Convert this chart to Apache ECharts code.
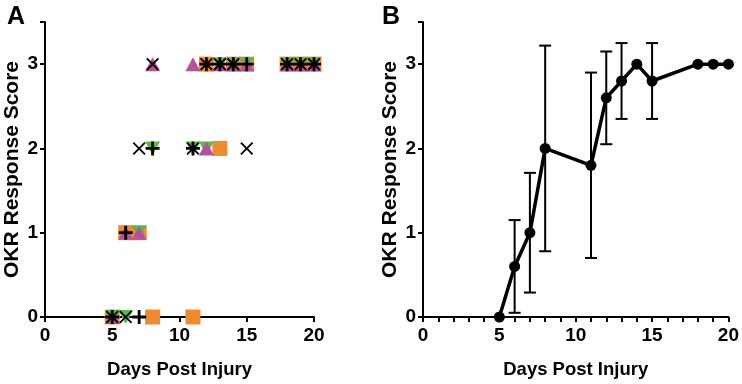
<!DOCTYPE html>
<html><head><meta charset="utf-8">
<script src="https://cdn.jsdelivr.net/npm/echarts@6/dist/echarts.min.js"></script>
<style>html,body{margin:0;padding:0;background:#fff}#c{width:742px;height:384px}</style>
</head><body><div id="c"></div>
<script>
// Panel A: individual scores per subject
const daysA = [5, 6, 7, 8, 11, 12, 13, 14, 15, 18, 19, 20];
const subjX       = [0, 0, 2, 3, 2, 3, 3, 3, 2, 3, 3, 3];
const subjPlus    = [0, 1, 0, 2, 2, 3, 3, 3, 3, 3, 3, 3];
const subjOrange  = [0, 1, 1, 0, 0, 3, 2, 3, 3, 3, 3, 3];
const subjGreen   = [0, 0, 1, 2, 2, 2, 3, 3, 3, 3, 3, 3];
const subjMagenta = [0, 1, 1, 3, 3, 2, 3, 3, 3, 3, 3, 3];
// Panel B: mean and SD
const daysB = [5, 6, 7, 8, 11, 12, 13, 14, 15, 18, 19, 20];
const meanB = [0, 0.6, 1.0, 2.0, 1.8, 2.6, 2.8, 3.0, 2.8, 3.0, 3.0, 3.0];
const sdB   = [0, 0.55, 0.71, 1.22, 1.1, 0.55, 0.45, 0, 0.45, 0, 0, 0];
const xTicks = [0, 5, 10, 15, 20];
const yTicks = [0, 1, 2, 3];

const FONT = '"Liberation Sans", Arial, sans-serif';
const pair = (xs, ys) => xs.map((d, i) => [d, ys[i]]);

const xSym = 'path://M0,1L1,0L5,4L9,0L10,1L6,5L10,9L9,10L5,6L1,10L0,9L4,5Z';
const plusSym = 'path://M4,0H6V10H4ZM0,4H10V6H0Z';

function xAxis(gi, minor) {
  return {
    type: 'value', gridIndex: gi, min: 0, max: 20, interval: 5,
    axisLine: {show: true, onZero: false, lineStyle: {color: '#000', width: 2}},
    axisTick: {show: true, length: 5, lineStyle: {color: '#000', width: 2}},
    minorTick: {show: minor, splitNumber: 5, length: 5, lineStyle: {color: '#000', width: 2}},
    axisLabel: {color: '#000', fontFamily: FONT, fontWeight: 'bold', fontSize: 19, margin: 9,
      formatter: v => xTicks.includes(v) ? String(v) : ''},
    splitLine: {show: false},
    name: 'Days Post Injury', nameLocation: 'middle', nameGap: 43,
    nameTextStyle: {color: '#000', fontFamily: FONT, fontWeight: 'bold', fontSize: 18.5}
  };
}
function yAxis(gi) {
  return {
    type: 'value', gridIndex: gi, min: 0, max: 3.5, interval: 1,
    axisLine: {show: true, onZero: false, lineStyle: {color: '#000', width: 2}},
    axisTick: {show: true, length: 5, lineStyle: {color: '#000', width: 2}},
    axisLabel: {color: '#000', fontFamily: FONT, fontWeight: 'bold', fontSize: 19, margin: 7,
      formatter: v => yTicks.includes(v) ? String(v) : ''},
    splitLine: {show: false},
    name: 'OKR Response Score', nameLocation: 'middle', nameGap: 22,
    nameTextStyle: {color: '#000', fontFamily: FONT, fontWeight: 'bold', fontSize: 21}
  };
}

function scat(data, symbol, size, color, extra) {
  return Object.assign({
    type: 'scatter', xAxisIndex: 0, yAxisIndex: 0, data: data,
    symbol: symbol, symbolSize: size, itemStyle: {color: color, opacity: 1},
    silent: true, animation: false
  }, extra || {});
}

const option = {
  animation: false,
  title: [
    {text: 'A', left: 2, top: 0, textStyle: {fontFamily: FONT, fontWeight: 'bold', fontSize: 25, color: '#000'}},
    {text: 'B', left: 377, top: 0, textStyle: {fontFamily: FONT, fontWeight: 'bold', fontSize: 25, color: '#000'}}
  ],
  grid: [
    {left: 45, right: 428, top: 22, bottom: 66},
    {left: 423, right: 12, top: 22, bottom: 66}
  ],
  xAxis: [xAxis(0, false), xAxis(1, true)],
  yAxis: [yAxis(0), yAxis(1)],
  series: [
    scat(pair(daysA, subjOrange), 'rect', 15, '#EF8A2E'),
    scat(pair(daysA, subjGreen), 'triangle', [15, 14], '#5DB947', {symbolRotate: 180}),
    scat(pair(daysA, subjMagenta), 'triangle', [15, 14], '#B4529B'),
    scat(pair(daysA, subjX), xSym, 13, '#000'),
    scat(pair(daysA, subjPlus), plusSym, 14, '#000'),
    {
      type: 'custom', xAxisIndex: 1, yAxisIndex: 1, silent: true,
      data: daysB.map((d, i) => [d, meanB[i] - sdB[i], meanB[i] + sdB[i]]),
      renderItem: function (params, api) {
        const lo = api.coord([api.value(0), api.value(1)]);
        const hi = api.coord([api.value(0), api.value(2)]);
        if (Math.abs(hi[1] - lo[1]) < 0.5) return null;
        const w = 6;
        const st = {stroke: '#000', lineWidth: 2, fill: null};
        return {type: 'group', children: [
          {type: 'line', shape: {x1: lo[0], y1: lo[1], x2: hi[0], y2: hi[1]}, style: st},
          {type: 'line', shape: {x1: lo[0] - w, y1: lo[1], x2: lo[0] + w, y2: lo[1]}, style: st},
          {type: 'line', shape: {x1: hi[0] - w, y1: hi[1], x2: hi[0] + w, y2: hi[1]}, style: st}
        ]};
      },
      z: 2
    },
    {
      type: 'line', xAxisIndex: 1, yAxisIndex: 1, data: pair(daysB, meanB),
      symbol: 'circle', symbolSize: 11, showAllSymbol: true,
      lineStyle: {color: '#000', width: 3.5}, itemStyle: {color: '#000'},
      silent: true, z: 3
    }
  ]
};
const chart = echarts.init(document.getElementById('c'), null, {renderer: 'canvas'});
chart.setOption(option);
</script></body></html>
